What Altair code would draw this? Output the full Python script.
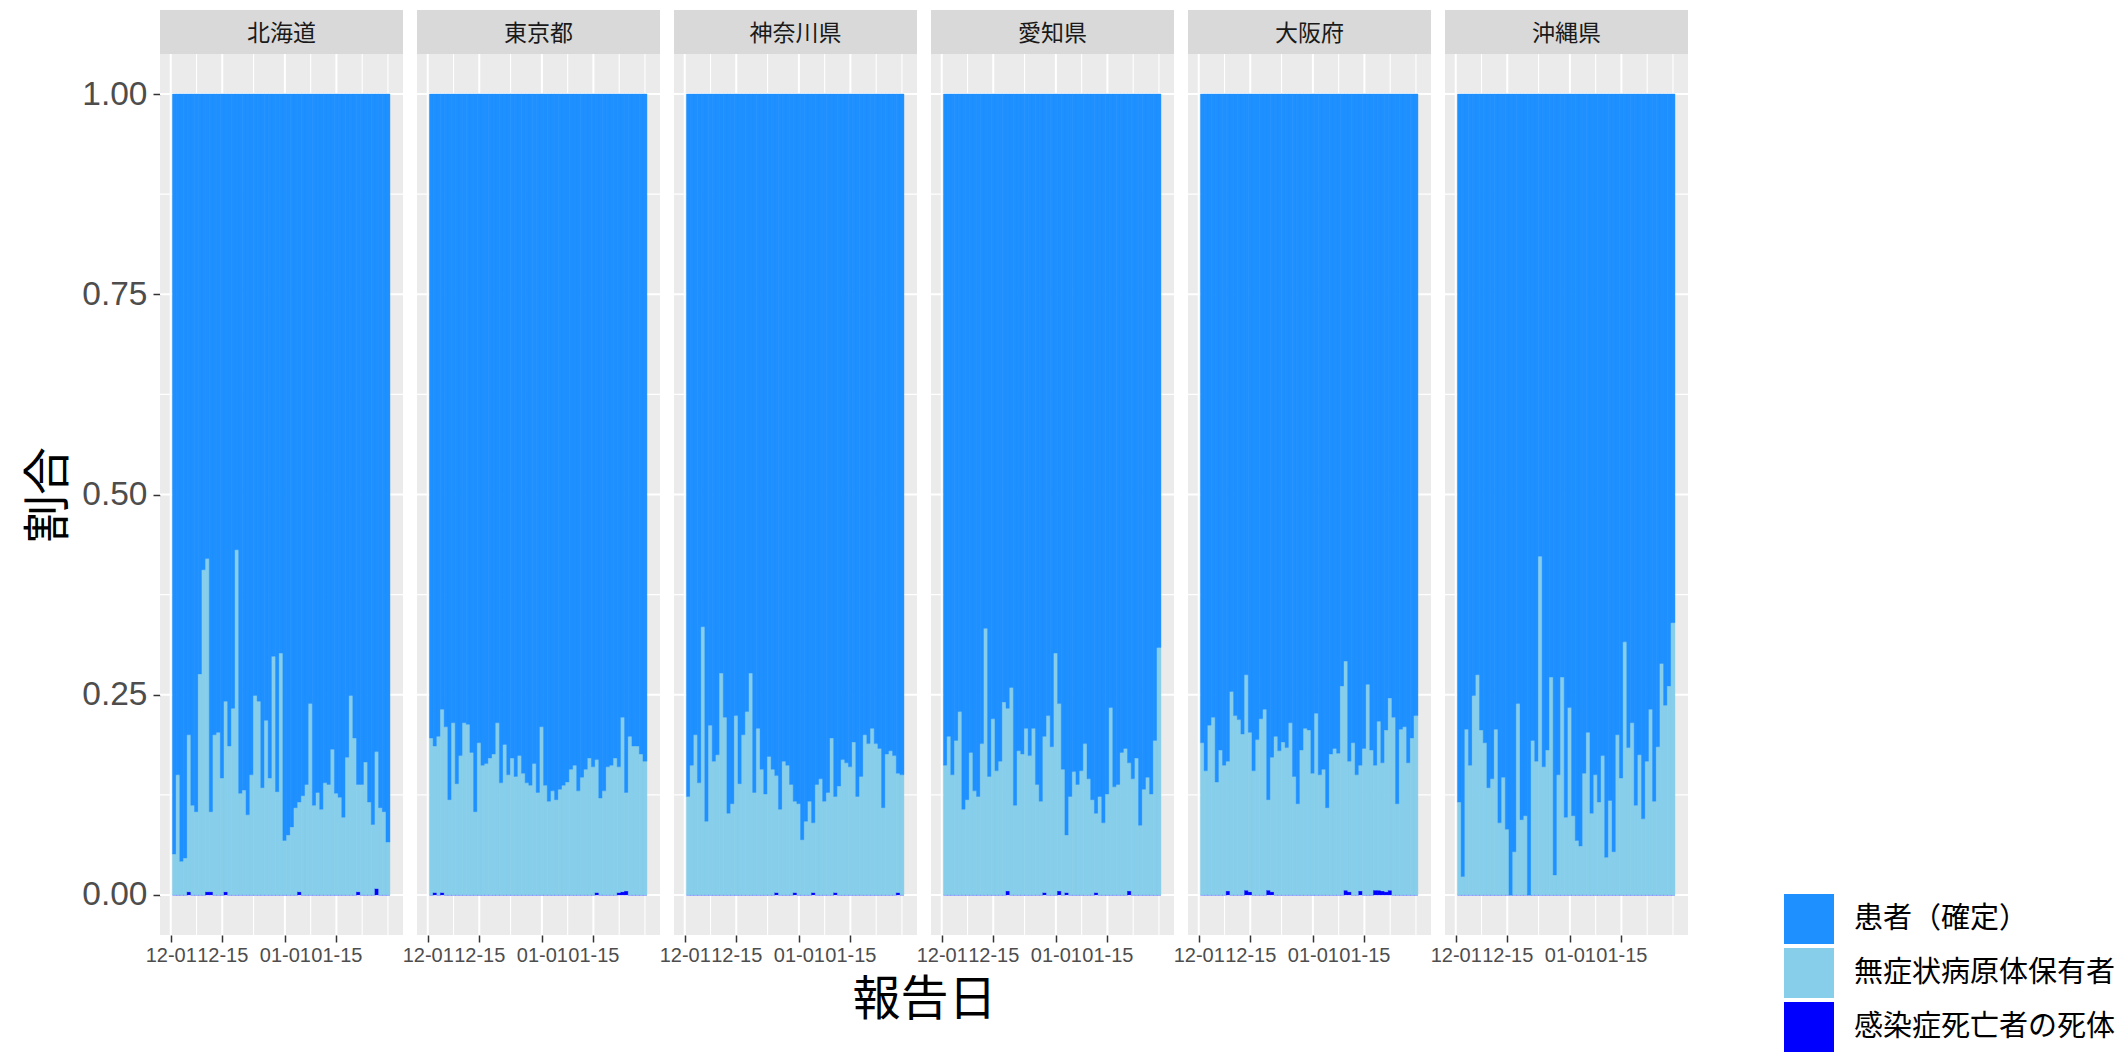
import altair as alt
import pandas as pd

CJK = "Noto Sans CJK JP"
LATIN = "Liberation Sans"

PREFS = ["北海道", "東京都", "神奈川県", "愛知県", "大阪府", "沖縄県"]
CATS = ["患者（確定）", "無症状病原体保有者", "感染症死亡者の死体"]
COLORS = ["#1E90FF", "#87CEEB", "#0000FF"]

# report dates: 2021-12-02 .. 2022-01-29 (59 days)
DATES = pd.date_range("2021-12-02", periods=59, freq="D").strftime("%Y-%m-%dT00:00:00Z").tolist()

# share of (asymptomatic + deaths) per day
LIGHT_HOKKAIDO = [0.051, 0.15, 0.042, 0.046, 0.20, 0.112, 0.104, 0.276, 0.406, 0.42, 0.104, 0.20, 0.203, 0.146,
                  0.242, 0.186, 0.233, 0.431, 0.127, 0.131, 0.100, 0.150, 0.249, 0.242, 0.134, 0.218, 0.146, 0.298,
                  0.129, 0.302, 0.068, 0.075, 0.085, 0.109, 0.116, 0.124, 0.138, 0.239, 0.112, 0.128, 0.107, 0.140,
                  0.138, 0.182, 0.127, 0.122, 0.097, 0.172, 0.249, 0.196, 0.138, 0.138, 0.166, 0.116, 0.088, 0.179,
                  0.109, 0.104, 0.066]
LIGHT_TOKYO = [0.196, 0.186, 0.198, 0.232, 0.210, 0.119, 0.215, 0.139, 0.174, 0.215, 0.213, 0.178, 0.104, 0.190,
               0.162, 0.164, 0.171, 0.176, 0.215, 0.140, 0.188, 0.150, 0.171, 0.148, 0.174, 0.152, 0.140, 0.137,
               0.164, 0.128, 0.210, 0.137, 0.117, 0.130, 0.119, 0.132, 0.137, 0.141, 0.157, 0.162, 0.130, 0.147,
               0.157, 0.171, 0.160, 0.169, 0.121, 0.130, 0.160, 0.162, 0.171, 0.160, 0.222, 0.128, 0.198, 0.186,
               0.186, 0.176, 0.167]
LIGHT_KANAGAWA = [0.123, 0.162, 0.200, 0.140, 0.335, 0.092, 0.212, 0.167, 0.175, 0.277, 0.222, 0.102, 0.114, 0.224,
                  0.139, 0.200, 0.229, 0.277, 0.128, 0.208, 0.157, 0.126, 0.173, 0.157, 0.149, 0.107, 0.167, 0.162,
                  0.138, 0.117, 0.114, 0.069, 0.092, 0.117, 0.090, 0.138, 0.145, 0.117, 0.128, 0.196, 0.123, 0.136,
                  0.169, 0.165, 0.160, 0.191, 0.123, 0.148, 0.200, 0.189, 0.208, 0.189, 0.183, 0.109, 0.176, 0.180,
                  0.174, 0.152, 0.150]
LIGHT_AICHI = [0.162, 0.198, 0.150, 0.193, 0.229, 0.107, 0.119, 0.178, 0.130, 0.123, 0.189, 0.333, 0.148, 0.220,
               0.155, 0.167, 0.241, 0.233, 0.259, 0.112, 0.180, 0.176, 0.208, 0.174, 0.208, 0.138, 0.117, 0.198,
               0.224, 0.185, 0.302, 0.239, 0.157, 0.075, 0.123, 0.154, 0.138, 0.155, 0.189, 0.145, 0.119, 0.102,
               0.123, 0.090, 0.126, 0.234, 0.135, 0.138, 0.178, 0.183, 0.165, 0.145, 0.171, 0.087, 0.132, 0.147,
               0.126, 0.193, 0.309]
LIGHT_OSAKA = [0.190, 0.155, 0.212, 0.222, 0.141, 0.181, 0.162, 0.167, 0.254, 0.224, 0.219, 0.201, 0.275, 0.203,
               0.155, 0.194, 0.220, 0.232, 0.119, 0.172, 0.198, 0.180, 0.191, 0.184, 0.215, 0.148, 0.114, 0.181,
               0.208, 0.206, 0.152, 0.227, 0.150, 0.157, 0.109, 0.176, 0.183, 0.177, 0.261, 0.292, 0.167, 0.190,
               0.150, 0.162, 0.183, 0.263, 0.181, 0.162, 0.217, 0.165, 0.206, 0.246, 0.222, 0.114, 0.207, 0.210,
               0.165, 0.196, 0.224]
LIGHT_OKINAWA = [0.116, 0.023, 0.207, 0.162, 0.249, 0.275, 0.206, 0.190, 0.134, 0.145, 0.207, 0.090, 0.147, 0.082,
                 0.0, 0.054, 0.239, 0.094, 0.099, 0.0, 0.193, 0.167, 0.423, 0.160, 0.181, 0.272, 0.025, 0.150,
                 0.272, 0.097, 0.234, 0.099, 0.068, 0.061, 0.152, 0.203, 0.102, 0.150, 0.116, 0.174, 0.047, 0.118,
                 0.054, 0.200, 0.146, 0.316, 0.184, 0.215, 0.112, 0.175, 0.095, 0.167, 0.232, 0.117, 0.185, 0.289,
                 0.237, 0.261, 0.340]

# share of deaths (day index -> share), mostly zero
DEATH_HOKKAIDO = {4: 0.004, 9: 0.004, 10: 0.004, 14: 0.004, 34: 0.004, 50: 0.004, 55: 0.008}
DEATH_TOKYO = {1: 0.003, 3: 0.003, 45: 0.003, 51: 0.003, 52: 0.004, 53: 0.005}
DEATH_KANAGAWA = {24: 0.003, 29: 0.003, 34: 0.003, 40: 0.003, 57: 0.003}
DEATH_AICHI = {17: 0.005, 27: 0.003, 31: 0.005, 33: 0.003, 41: 0.003, 50: 0.005}
DEATH_OSAKA = {7: 0.005, 12: 0.006, 13: 0.004, 18: 0.006, 19: 0.004, 39: 0.006, 40: 0.004, 43: 0.005,
               47: 0.006, 48: 0.006, 49: 0.005, 50: 0.004, 51: 0.006}
DEATH_OKINAWA = {}

LIGHT = dict(zip(PREFS, [LIGHT_HOKKAIDO, LIGHT_TOKYO, LIGHT_KANAGAWA, LIGHT_AICHI, LIGHT_OSAKA, LIGHT_OKINAWA]))
DEATH = dict(zip(PREFS, [DEATH_HOKKAIDO, DEATH_TOKYO, DEATH_KANAGAWA, DEATH_AICHI, DEATH_OSAKA, DEATH_OKINAWA]))

# axis ticks / grid
X_TICKS = [(2021, 12, 1), (2021, 12, 15), (2022, 1, 1), (2022, 1, 15)]
X_MINOR = ["2021-12-08T00:00:00Z", "2021-12-23T12:00:00Z", "2022-01-08T00:00:00Z",
           "2022-01-22T00:00:00Z", "2022-01-29T00:00:00Z"]
Y_MAJOR = [0.0, 0.25, 0.5, 0.75, 1.0]
Y_MINOR = [0.125, 0.375, 0.625, 0.875]

rows = []
for p in PREFS:
    light, deaths = LIGHT[p], DEATH[p]
    for i, d in enumerate(DATES):
        dth = deaths.get(i, 0.0)
        rows.append({"pref": p, "date": d, "cat": CATS[2], "ord": 0, "share": dth})
        rows.append({"pref": p, "date": d, "cat": CATS[1], "ord": 1, "share": max(light[i] - dth, 0.0)})
        rows.append({"pref": p, "date": d, "cat": CATS[0], "ord": 2, "share": 1.0 - light[i]})
df = pd.DataFrame(rows)

W, H, STRIP = 243, 881, 44

XSCALE = alt.Scale(type="utc", domain=[alt.DateTime(year=2021, month=11, date=28, hours=2, utc=True),
                                       alt.DateTime(year=2022, month=2, date=2, hours=2, utc=True)])
YSCALE = alt.Scale(domain=[-0.05, 1.05], nice=False, zero=False)
CSCALE = alt.Scale(domain=CATS, range=COLORS)

LEGEND = alt.Legend(title=None, orient="none", legendX=1624, legendY=840, symbolType="square",
                    symbolSize=2500, symbolStrokeWidth=0, labelFont=CJK, labelFontSize=29,
                    labelColor="black", rowPadding=4, labelOffset=20, labelLimit=400)


def x_axis(idx):
    kw = dict(values=[alt.DateTime(year=y, month=m, date=d, utc=True) for (y, m, d) in X_TICKS],
              format="%m-%d", labelFont=LATIN, labelFontSize=20, labelColor="#4D4D4D",
              tickColor="#333333", tickSize=7, tickWidth=1.5, domain=False, grid=False,
              labelOverlap=False, labelFlush=False, labelPadding=3)
    if idx == 2:
        kw.update(title="報告日", titleFont=CJK, titleFontSize=48, titleFontWeight="normal",
                  titleColor="black", titleX=W + 7, titleY=65, titleAlign="center",
                  titleBaseline="middle", titleAnchor="middle")
    else:
        kw.update(title=None)
    return alt.Axis(**kw)


def y_axis(idx):
    if idx == 0:
        return alt.Axis(values=Y_MAJOR, format=".2f", labelFont=LATIN, labelFontSize=33.5,
                        labelColor="#4D4D4D", tickColor="#333333", tickSize=7, tickWidth=1.5,
                        labelPadding=6, domain=False, grid=False, title="割合", titleFont=CJK,
                        titleFontSize=48, titleFontWeight="normal", titleColor="black", titlePadding=8)
    return alt.Axis(values=Y_MAJOR, labels=False, ticks=False, domain=False, grid=False, title=None)


def panel(idx, p):
    XAX = x_axis(idx)
    YAX = y_axis(idx)
    strip_df = pd.DataFrame({"pref": [p]})
    strip_rect = alt.Chart(strip_df).mark_rect(color="#D9D9D9").encode(
        x=alt.value(0), x2=alt.value(W), y=alt.value(-STRIP), y2=alt.value(0))
    strip_text = alt.Chart(strip_df).mark_text(font=CJK, fontSize=23, color="#1A1A1A",
                                               baseline="middle", align="center").encode(
        x=alt.value(W / 2), y=alt.value(-STRIP / 2 + 2), text="pref:N")

    hmaj = alt.Chart(pd.DataFrame({"v": Y_MAJOR})).mark_rule(color="white", strokeWidth=2).encode(
        y=alt.Y("v:Q", scale=YSCALE, axis=YAX), x=alt.value(0), x2=alt.value(W))
    hmin = alt.Chart(pd.DataFrame({"v": Y_MINOR})).mark_rule(color="white", strokeWidth=1.1).encode(
        y=alt.Y("v:Q", scale=YSCALE, axis=YAX), x=alt.value(0), x2=alt.value(W))
    vmaj = alt.Chart(pd.DataFrame({"d": [f"{y}-{m:02d}-{d:02d}T00:00:00Z" for (y, m, d) in X_TICKS]})).mark_rule(
        color="white", strokeWidth=2).encode(
        x=alt.X("d:T", scale=XSCALE, axis=XAX), y=alt.value(0), y2=alt.value(H))
    vmin = alt.Chart(pd.DataFrame({"d": X_MINOR})).mark_rule(color="white", strokeWidth=1.1).encode(
        x=alt.X("d:T", scale=XSCALE, axis=XAX), y=alt.value(0), y2=alt.value(H))

    bars = alt.Chart(df).transform_filter(alt.datum.pref == p).transform_calculate(
        start="time(toDate(datum.date)) - 47000000",
        end="time(toDate(datum.date)) + 47000000",
    ).transform_stack(
        stack="share", groupby=["date"], as_=["y0", "y1"], offset="normalize",
        sort=[alt.SortField("ord", order="ascending")],
    ).mark_bar(strokeWidth=0.4).encode(
        x=alt.X("start:T", scale=XSCALE, axis=XAX),
        x2="end:T",
        y=alt.Y("y0:Q", scale=YSCALE, axis=YAX),
        y2="y1:Q",
        color=alt.Color("cat:N", scale=CSCALE, legend=LEGEND),
        stroke=alt.Stroke("cat:N", scale=CSCALE, legend=None),
    )
    return alt.layer(strip_rect, strip_text, hmin, hmaj, vmin, vmaj, bars).properties(width=W, height=H)


chart = alt.hconcat(
    *[panel(i, p) for i, p in enumerate(PREFS)],
    spacing=14,
    bounds="flush",
).properties(
    padding={"left": 25, "top": 10, "right": 0, "bottom": 0},
    background="white",
).configure_view(
    fill="#EBEBEB", stroke=None
)

chart.save("out.html", embed_options={"renderer": "svg", "actions": False})
